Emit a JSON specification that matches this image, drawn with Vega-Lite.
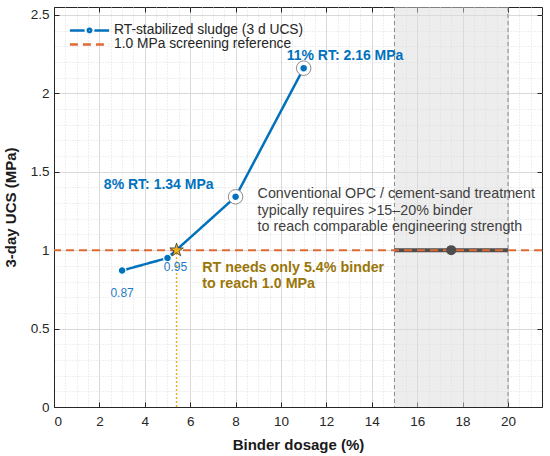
{
  "$schema": "https://vega.github.io/schema/vega-lite/v6.json",
  "width": 488,
  "height": 400,
  "autosize": {"type": "none"},
  "padding": {"left": 54, "top": 7, "right": 8, "bottom": 49},
  "config": {
    "font": "Liberation Sans",
    "view": {"stroke": "#262626", "strokeWidth": 1},
    "axis": {
      "labelFont": "Liberation Sans",
      "labelFontSize": 13.5,
      "labelColor": "#262626",
      "titleFont": "Liberation Sans",
      "titleFontSize": 15,
      "titleFontWeight": "bold",
      "titleColor": "#1a1a1a",
      "domainColor": "#262626",
      "tickColor": "#262626",
      "gridColor": "#d9d9d9"
    }
  },
  "datasets": {
    "ucs": [
      {"dosage": 3, "ucs": 0.87, "series": "RT-stabilized sludge (3 d UCS)"},
      {"dosage": 5, "ucs": 0.95, "series": "RT-stabilized sludge (3 d UCS)"},
      {"dosage": 8, "ucs": 1.34, "series": "RT-stabilized sludge (3 d UCS)"},
      {"dosage": 11, "ucs": 2.16, "series": "RT-stabilized sludge (3 d UCS)"}
    ],
    "ring": [{"dosage": 8, "ucs": 1.34}, {"dosage": 11, "ucs": 2.16}],
    "ref": [{"ucs": 1, "series": "1.0 MPa screening reference"}],
    "star": [{"dosage": 5.4, "ucs": 1, "base": 0}],
    "band": [{"from": 15, "to": 20}],
    "edges": [{"dosage": 15}, {"dosage": 20}],
    "conv": [{"from": 15, "to": 20, "mid": 17.5, "ucs": 1}],
    "boldRight": [{"dosage": 8, "ucs": 1.34, "label": "8% RT: 1.34 MPa"}],
    "boldLeft": [{"dosage": 11, "ucs": 2.16, "label": "11% RT: 2.16 MPa"}],
    "small1": [{"dosage": 3, "ucs": 0.87, "label": "0.87"}],
    "small2": [{"dosage": 5, "ucs": 0.95, "label": "0.95"}],
    "rtnote": [{"dosage": 6.53, "ucs": 0.86, "label": "RT needs only 5.4% binder\nto reach 1.0 MPa"}],
    "convnote": [{"dosage": 8.97, "ucs": 1.33, "label": "Conventional OPC / cement-sand treatment\ntypically requires >15–20% binder\nto reach comparable engineering strength"}]
  },
  "layer": [
    {
      "data": {"name": "band"},
      "mark": {"type": "rect", "fill": "#dcdcdc", "opacity": 0.5},
      "encoding": {
        "x": {
          "field": "from", "type": "quantitative",
          "scale": {"domain": [0, 21.5], "nice": false, "zero": false},
          "axis": {
            "values": [0.5,1,1.5,2.5,3,3.5,4.5,5,5.5,6.5,7,7.5,8.5,9,9.5,10.5,11,11.5,12.5,13,13.5,14.5,15,15.5,16.5,17,17.5,18.5,19,19.5,20.5,21],
            "grid": true, "gridDash": [1, 2], "gridColor": "#dedede",
            "labels": false, "ticks": false, "domain": false, "title": null
          }
        },
        "x2": {"field": "to"}
      }
    },
    {
      "data": {"name": "edges"},
      "mark": {"type": "rule", "color": "#8c8c8c", "strokeDash": [4, 3], "strokeWidth": 1},
      "encoding": {
        "x": {
          "field": "dosage", "type": "quantitative",
          "axis": {
            "orient": "top", "values": [0,2,4,6,8,10,12,14,16,18,20],
            "grid": false, "labels": false, "domain": false, "ticks": true, "tickSize": -5, "title": null
          }
        }
      }
    },
    {
      "data": {"name": "star"},
      "mark": {"type": "rule", "color": "#EDB120", "strokeDash": [2, 2], "strokeWidth": 1.5},
      "encoding": {
        "x": {"field": "dosage", "type": "quantitative", "axis": null},
        "y": {
          "field": "base", "type": "quantitative",
          "scale": {"domain": [0, 2.55], "nice": false, "zero": false},
          "axis": {
            "values": [0.1,0.2,0.3,0.4,0.6,0.7,0.8,0.9,1.1,1.2,1.3,1.4,1.6,1.7,1.8,1.9,2.1,2.2,2.3,2.4],
            "grid": true, "gridDash": [1, 2], "gridColor": "#dedede",
            "labels": false, "ticks": false, "domain": false, "title": null
          }
        },
        "y2": {"field": "ucs"}
      }
    },
    {
      "data": {"name": "conv"},
      "mark": {"type": "rule", "color": "#4d4d4d", "strokeWidth": 4},
      "encoding": {
        "x": {"field": "from", "type": "quantitative", "axis": null},
        "x2": {"field": "to"},
        "y": {"field": "ucs", "type": "quantitative", "axis": null}
      }
    },
    {
      "data": {"name": "ref"},
      "mark": {"type": "rule", "strokeWidth": 2},
      "encoding": {
        "y": {
          "field": "ucs", "type": "quantitative",
          "axis": {
            "orient": "right", "values": [0,0.5,1,1.5,2,2.5],
            "grid": false, "labels": false, "domain": false, "ticks": true, "tickSize": -5, "title": null
          }
        },
        "color": {"field": "series", "type": "nominal"},
        "strokeDash": {"field": "series", "type": "nominal"}
      }
    },
    {
      "data": {"name": "conv"},
      "mark": {"type": "point", "shape": "circle", "filled": true, "color": "#4d4d4d", "size": 100, "opacity": 1},
      "encoding": {
        "x": {"field": "mid", "type": "quantitative", "axis": null},
        "y": {"field": "ucs", "type": "quantitative", "axis": null}
      }
    },
    {
      "data": {"name": "ucs"},
      "mark": {"type": "line", "strokeWidth": 2.5},
      "encoding": {
        "x": {
          "field": "dosage", "type": "quantitative",
          "axis": {
            "values": [0,2,4,6,8,10,12,14,16,18,20],
            "grid": true, "gridColor": "#d9d9d9",
            "ticks": true, "tickSize": -5, "labelPadding": 12,
            "domain": true, "title": "Binder dosage (%)", "titlePadding": 10
          }
        },
        "y": {
          "field": "ucs", "type": "quantitative",
          "axis": {
            "values": [0,0.5,1,1.5,2,2.5], "format": "~g",
            "grid": true, "gridColor": "#d9d9d9",
            "ticks": true, "tickSize": -5, "labelPadding": 10,
            "domain": true, "title": "3-day UCS (MPa)", "titlePadding": 12
          }
        },
        "color": {
          "field": "series", "type": "nominal",
          "scale": {
            "domain": ["RT-stabilized sludge (3 d UCS)", "1.0 MPa screening reference"],
            "range": ["#0072BD", "#DE6A35"]
          },
          "legend": {
            "orient": "none", "legendX": 28.6, "legendY": 16.5, "title": null,
            "symbolType": "M-4,0H4", "symbolSize": 96, "symbolStrokeWidth": 2.5,
            "labelOffset": 17.6, "labelFontSize": 13.8, "labelFont": "Liberation Sans",
            "labelColor": "#262626", "labelLimit": 0, "rowPadding": -4, "padding": 0,
            "encode": {
              "symbols": {
                "update": {
                  "shape": {"signal": "datum.value === '1.0 MPa screening reference' ? 'M-4,0H4' : 'M-4,0H-1M1,0H4M0.35,0A0.35,0.35 0 1,1 -0.35,0A0.35,0.35 0 1,1 0.35,0'"}
                }
              }
            }
          }
        },
        "strokeDash": {
          "field": "series", "type": "nominal",
          "scale": {
            "domain": ["RT-stabilized sludge (3 d UCS)", "1.0 MPa screening reference"],
            "range": [[1, 0], [8, 5]]
          },
          "legend": {"title": null}
        }
      }
    },
    {
      "data": {"name": "ring"},
      "mark": {"type": "point", "shape": "circle", "filled": true, "fill": "white", "stroke": "#8a8a8a", "strokeWidth": 1, "size": 210, "opacity": 1},
      "encoding": {
        "x": {"field": "dosage", "type": "quantitative", "axis": null},
        "y": {"field": "ucs", "type": "quantitative", "axis": null}
      }
    },
    {
      "data": {"name": "ucs"},
      "mark": {"type": "point", "shape": "circle", "filled": true, "fill": "#0072BD", "stroke": "white", "strokeWidth": 1.2, "size": 60, "opacity": 1},
      "encoding": {
        "x": {"field": "dosage", "type": "quantitative", "axis": null},
        "y": {"field": "ucs", "type": "quantitative", "axis": null}
      }
    },
    {
      "data": {"name": "star"},
      "mark": {
        "type": "point",
        "shape": "M0,-1L0.2245,-0.309L0.9511,-0.309L0.3633,0.118L0.5878,0.809L0,0.382L-0.5878,0.809L-0.3633,0.118L-0.9511,-0.309L-0.2245,-0.309Z",
        "filled": true, "fill": "#EDB120", "stroke": "#333333", "strokeWidth": 0.8, "size": 200, "opacity": 1
      },
      "encoding": {
        "x": {"field": "dosage", "type": "quantitative", "axis": null},
        "y": {"field": "ucs", "type": "quantitative", "axis": null}
      }
    },
    {
      "data": {"name": "boldRight"},
      "mark": {"type": "text", "align": "right", "baseline": "middle", "dx": -22, "dy": -12, "fontSize": 14, "fontWeight": "bold", "color": "#0072BD"},
      "encoding": {
        "x": {"field": "dosage", "type": "quantitative", "axis": null},
        "y": {"field": "ucs", "type": "quantitative", "axis": null},
        "text": {"field": "label"}
      }
    },
    {
      "data": {"name": "boldLeft"},
      "mark": {"type": "text", "align": "left", "baseline": "middle", "dx": -17, "dy": -12.5, "fontSize": 14, "fontWeight": "bold", "color": "#0072BD"},
      "encoding": {
        "x": {"field": "dosage", "type": "quantitative", "axis": null},
        "y": {"field": "ucs", "type": "quantitative", "axis": null},
        "text": {"field": "label"}
      }
    },
    {
      "data": {"name": "small1"},
      "mark": {"type": "text", "align": "center", "baseline": "middle", "dx": 0, "dy": 22, "fontSize": 12, "color": "#1f7cc4"},
      "encoding": {
        "x": {"field": "dosage", "type": "quantitative", "axis": null},
        "y": {"field": "ucs", "type": "quantitative", "axis": null},
        "text": {"field": "label"}
      }
    },
    {
      "data": {"name": "small2"},
      "mark": {"type": "text", "align": "center", "baseline": "middle", "dx": 8, "dy": 9, "fontSize": 12, "color": "#1f7cc4"},
      "encoding": {
        "x": {"field": "dosage", "type": "quantitative", "axis": null},
        "y": {"field": "ucs", "type": "quantitative", "axis": null},
        "text": {"field": "label"}
      }
    },
    {
      "data": {"name": "rtnote"},
      "mark": {"type": "text", "align": "left", "baseline": "alphabetic", "lineBreak": "\n", "lineHeight": 16, "fontSize": 14.3, "fontWeight": "bold", "color": "#9a7608"},
      "encoding": {
        "x": {"field": "dosage", "type": "quantitative", "axis": null},
        "y": {"field": "ucs", "type": "quantitative", "axis": null},
        "text": {"field": "label"}
      }
    },
    {
      "data": {"name": "convnote"},
      "mark": {"type": "text", "align": "left", "baseline": "alphabetic", "lineBreak": "\n", "lineHeight": 16.3, "fontSize": 14.3, "color": "#404040"},
      "encoding": {
        "x": {"field": "dosage", "type": "quantitative", "axis": null},
        "y": {"field": "ucs", "type": "quantitative", "axis": null},
        "text": {"field": "label"}
      }
    }
  ],
  "resolve": {"axis": {"x": "independent", "y": "independent"}}
}
